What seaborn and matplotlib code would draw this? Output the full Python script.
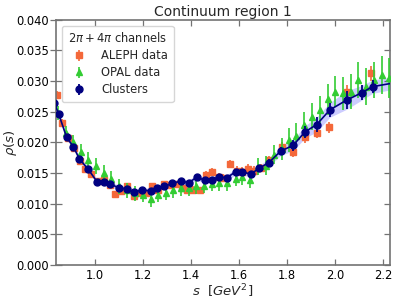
import matplotlib
matplotlib.use("Agg")
import matplotlib.pyplot as plt
import matplotlib.lines as mlines
import numpy as np
import pandas as pd
import seaborn as sns

# ALEPH data (s, rho, err)
aleph_s = [0.840, 0.862, 0.887, 0.912, 0.937, 0.960, 0.985, 1.012, 1.037, 1.062,
           1.085, 1.110, 1.135, 1.162, 1.187, 1.211, 1.237, 1.262, 1.287, 1.312,
           1.337, 1.362, 1.385, 1.410, 1.437, 1.462, 1.487, 1.515, 1.535, 1.562,
           1.594, 1.612, 1.636, 1.664, 1.690, 1.726, 1.778, 1.826, 1.874, 1.924,
           1.976, 2.049, 2.149]
aleph_rho = [0.0278, 0.0232, 0.0207, 0.0190, 0.0170, 0.0157, 0.0149, 0.0137, 0.0139, 0.0131,
             0.0116, 0.0121, 0.0129, 0.0112, 0.0117, 0.0117, 0.0128, 0.0122, 0.0132, 0.0130,
             0.0132, 0.0125, 0.0123, 0.0123, 0.0122, 0.0147, 0.0152, 0.0144, 0.0142, 0.0165,
             0.0154, 0.0152, 0.0157, 0.0154, 0.0158, 0.0171, 0.0193, 0.0184, 0.0208, 0.0216,
             0.0225, 0.0282, 0.0313]
aleph_err = [0.0006, 0.0006, 0.0005, 0.0005, 0.0005, 0.0005, 0.0005, 0.0005, 0.0005, 0.0005,
             0.0005, 0.0005, 0.0005, 0.0005, 0.0005, 0.0005, 0.0005, 0.0005, 0.0005, 0.0005,
             0.0005, 0.0005, 0.0005, 0.0005, 0.0005, 0.0006, 0.0006, 0.0006, 0.0006, 0.0007,
             0.0007, 0.0007, 0.0007, 0.0007, 0.0007, 0.0007, 0.0008, 0.0008, 0.0009, 0.0009,
             0.0009, 0.0011, 0.0012]

# OPAL data
opal_s = [0.846, 0.878, 0.910, 0.941, 0.972, 1.006, 1.037, 1.068, 1.100, 1.135,
          1.167, 1.200, 1.232, 1.264, 1.296, 1.326, 1.358, 1.393, 1.420, 1.454,
          1.486, 1.518, 1.551, 1.588, 1.614, 1.646, 1.680, 1.712, 1.747, 1.778,
          1.810, 1.840, 1.872, 1.905, 1.937, 1.970, 2.000, 2.035, 2.067, 2.097,
          2.130, 2.164, 2.195, 2.225]
opal_rho = [0.0248, 0.0215, 0.0200, 0.0185, 0.0171, 0.0162, 0.0150, 0.0140, 0.0128, 0.0122,
            0.0117, 0.0114, 0.0107, 0.0114, 0.0118, 0.0122, 0.0125, 0.0125, 0.0128, 0.0129,
            0.0132, 0.0133, 0.0134, 0.0141, 0.0143, 0.0138, 0.0160, 0.0162, 0.0180, 0.0189,
            0.0204, 0.0211, 0.0229, 0.0242, 0.0253, 0.0270, 0.0283, 0.0280, 0.0283, 0.0302,
            0.0291, 0.0302, 0.0310, 0.0305]
opal_err = [0.0012, 0.0012, 0.0012, 0.0013, 0.0013, 0.0013, 0.0013, 0.0013, 0.0012, 0.0012,
            0.0012, 0.0012, 0.0012, 0.0012, 0.0012, 0.0012, 0.0012, 0.0012, 0.0012, 0.0012,
            0.0012, 0.0012, 0.0013, 0.0013, 0.0013, 0.0013, 0.0014, 0.0015, 0.0016, 0.0018,
            0.0019, 0.0020, 0.0021, 0.0022, 0.0023, 0.0025, 0.0026, 0.0027, 0.0028, 0.0030,
            0.0030, 0.0030, 0.0031, 0.0032]

# clusters
clus_s = [0.830, 0.849, 0.882, 0.910, 0.935, 0.972, 1.008, 1.037, 1.062, 1.099,
          1.132, 1.162, 1.195, 1.233, 1.260, 1.289, 1.322, 1.360, 1.390, 1.424,
          1.460, 1.486, 1.515, 1.549, 1.586, 1.614, 1.649, 1.685, 1.725, 1.775,
          1.826, 1.875, 1.924, 1.979, 2.049, 2.112, 2.157, 2.260]
clus_rho = [0.0265, 0.0246, 0.0208, 0.0193, 0.0173, 0.0156, 0.0136, 0.0136, 0.0132, 0.0126,
            0.0124, 0.0119, 0.0122, 0.0121, 0.0125, 0.0128, 0.0133, 0.0137, 0.0134, 0.0143,
            0.0138, 0.0138, 0.0144, 0.0142, 0.0152, 0.0152, 0.0148, 0.0158, 0.0167, 0.0186,
            0.0195, 0.0217, 0.0229, 0.0253, 0.0269, 0.0281, 0.0291, 0.0298]
clus_err = [0.0005, 0.0005, 0.0004, 0.0004, 0.0004, 0.0004, 0.0004, 0.0004, 0.0004, 0.0004,
            0.0004, 0.0004, 0.0004, 0.0004, 0.0004, 0.0004, 0.0004, 0.0004, 0.0004, 0.0005,
            0.0004, 0.0004, 0.0004, 0.0005, 0.0005, 0.0005, 0.0005, 0.0005, 0.0006, 0.0007,
            0.0009, 0.0010, 0.0012, 0.0012, 0.0015, 0.0012, 0.0011, 0.0010]

x_ticks = [1.0, 1.2, 1.4, 1.6, 1.8, 2.0, 2.2]
y_ticks = [0.000, 0.005, 0.010, 0.015, 0.020, 0.025, 0.030, 0.035, 0.040]

df_clus = pd.DataFrame({"s": clus_s, "rho": clus_rho, "err": clus_err})

sns.set_style("white")
plt.rcParams["axes.edgecolor"] = "0.45"
plt.rcParams["xtick.color"] = "0.45"
plt.rcParams["ytick.color"] = "0.45"
plt.rcParams["xtick.labelcolor"] = "black"
plt.rcParams["ytick.labelcolor"] = "black"

fig = plt.figure(figsize=(3.98, 3.01), dpi=100)
ax = fig.add_axes([0.141, 0.12, 0.839, 0.814])

# band + central line for the clusters
ax.fill_between(df_clus["s"], df_clus["rho"] - df_clus["err"], df_clus["rho"] + df_clus["err"],
                color="blue", alpha=0.2, linewidth=0, zorder=1)
sns.lineplot(data=df_clus, x="s", y="rho", ax=ax, color="navy", linewidth=1.2,
             sort=False, zorder=4, legend=False)

ax.errorbar(aleph_s, aleph_rho, yerr=aleph_err, fmt="s", color="#f4683a", markersize=4,
            elinewidth=1.2, capsize=0, label="ALEPH data", zorder=2)
ax.errorbar(opal_s, opal_rho, yerr=opal_err, fmt="^", color="#33cc33", markersize=4,
            elinewidth=1.2, capsize=0, label="OPAL data", zorder=3)
ax.errorbar(df_clus["s"], df_clus["rho"], yerr=df_clus["err"], fmt="o", color="navy",
            markersize=5, elinewidth=1.3, capsize=0, label="Clusters", zorder=5)

ax.set_xlim(0.838, 2.23)
ax.set_ylim(0.0, 0.040)
ax.set_xticks(x_ticks)
ax.set_yticks(y_ticks)
ax.set_xticklabels([f"{t:.1f}" for t in x_ticks])
ax.set_yticklabels([f"{t:.3f}" for t in y_ticks])
ax.tick_params(axis="both", which="major", direction="in", top=True, right=True,
               bottom=True, left=True, length=4.5, width=0.9, labelsize=8.3, pad=3)
ax.tick_params(axis="y", direction="inout", length=8, pad=1)
for t in ax.yaxis.get_major_ticks():
    t.tick2line.set_marker(mlines.TICKLEFT)
    t.tick2line.set_markersize(4.5)

for sp in ax.spines.values():
    sp.set_linewidth(1.2)

ax.set_title("Continuum region 1", fontsize=10, pad=3)
ax.set_xlabel(r"$s$  $[GeV^2]$", fontsize=9.5, labelpad=0)
ax.set_ylabel(r"$\rho(s)$", fontsize=9.5)
ax.yaxis.set_label_coords(-0.11, 0.5)

ax.legend(loc="upper left", title=r"$2\pi + 4\pi$ channels", fontsize=8.3,
          title_fontsize=8.3, frameon=True, handletextpad=0.9, borderpad=0.5,
          labelspacing=0.35)

fig.savefig("out.png", dpi=100)
